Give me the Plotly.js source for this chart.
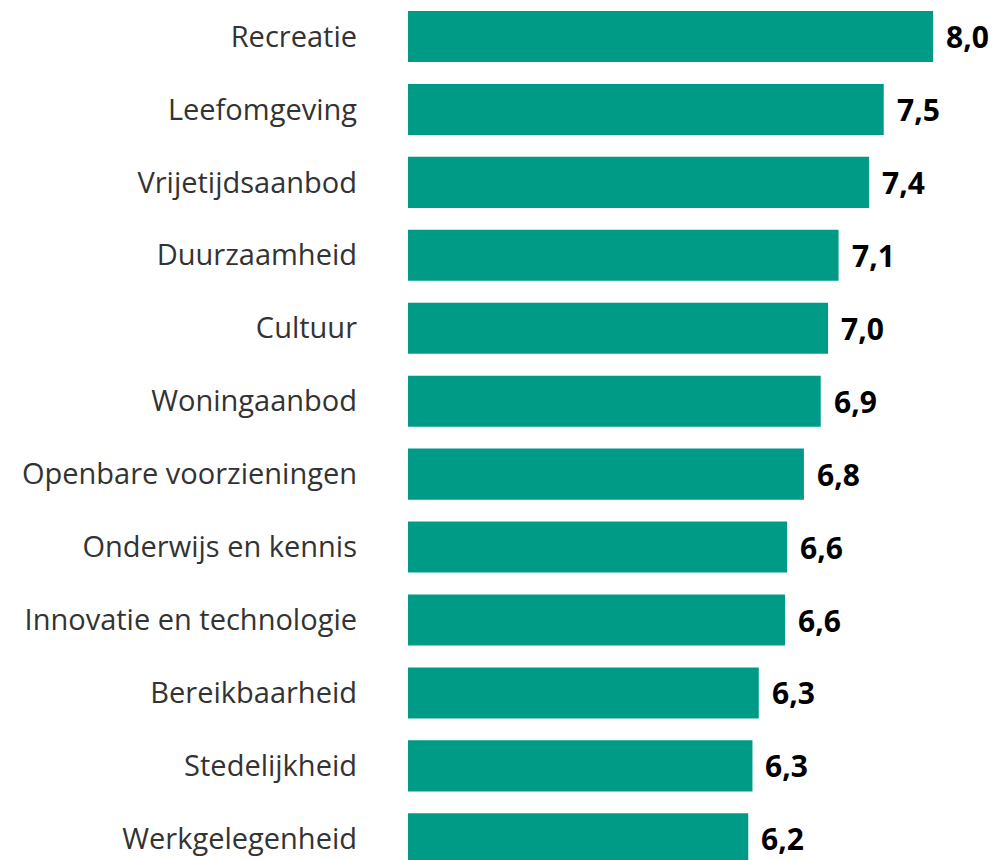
<!DOCTYPE html>
<html>
<head>
<meta charset="utf-8">
<script src="https://cdn.plot.ly/plotly-3.0.1.min.js"></script>
<style>html,body{margin:0;padding:0;background:#fff;}#chart{width:994px;height:860px;}</style>
</head>
<body>
<div id="chart"></div>
<script>
const categories = ["Recreatie","Leefomgeving","Vrijetijdsaanbod","Duurzaamheid","Cultuur","Woningaanbod","Openbare voorzieningen","Onderwijs en kennis","Innovatie en technologie","Bereikbaarheid","Stedelijkheid","Werkgelegenheid"];
const values = [8.00, 7.53, 7.39, 7.10, 7.00, 6.93, 6.77, 6.61, 6.59, 6.34, 6.28, 6.24];
const valueLabels = ["8,0","7,5","7,4","7,1","7,0","6,9","6,8","6,6","6,6","6,3","6,3","6,2"];

const trace = {
  type: 'bar',
  orientation: 'h',
  x: values,
  y: categories,
  width: 0.7,
  marker: {color: '#009B87', line: {width: 0}},
  hoverinfo: 'skip'
};

const annotations = categories.map((c, i) => ({
  x: values[i], y: c, xref: 'x', yref: 'y',
  text: valueLabels[i], showarrow: false,
  xanchor: 'left', yanchor: 'middle', xshift: 11,
  font: {family: '"Open Sans", sans-serif', size: 30, color: '#000', weight: 700}
}));

const layout = {
  width: 994, height: 860,
  margin: {l: 408, r: 0, t: 0, b: 0, pad: 0},
  paper_bgcolor: '#fff', plot_bgcolor: '#fff',
  showlegend: false,
  bargap: 0.3,
  xaxis: {range: [3, 8.58], showgrid: false, zeroline: false, showticklabels: false, showline: false, ticks: ''},
  yaxis: {
    type: 'category',
    range: [categories.length - 1 + 0.29, -0.5],
    showgrid: false, zeroline: false, showline: false, ticks: '',
    ticklabelstandoff: 50,
    tickfont: {family: '"Open Sans", sans-serif', size: 29, color: '#333333', weight: 400}
  },
  annotations: annotations
};

Plotly.newPlot('chart', [trace], layout, {displayModeBar: false, staticPlot: true});
</script>
</body>
</html>
